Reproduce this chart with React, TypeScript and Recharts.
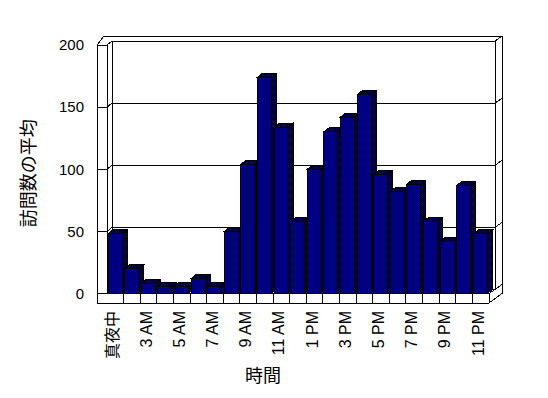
import React from 'react';
import { BarChart, Bar, XAxis, YAxis, CartesianGrid, ReferenceArea } from 'recharts';

const categories = [
  '真夜中', '2 AM', '3 AM', '4 AM', '5 AM', '6 AM', '7 AM', '8 AM', '9 AM', '10 AM', '11 AM', '正午',
  '1 PM', '2 PM', '3 PM', '4 PM', '5 PM', '6 PM', '7 PM', '8 PM', '9 PM', '10 PM', '11 PM',
];
const visits = [48, 20, 8, 6, 6, 12, 6, 50, 104, 174, 134, 58, 100, 130, 142, 160, 96, 82, 88, 58, 42, 87, 48];
const yTicks = [0, 50, 100, 150, 200];
const xTitle = '時間';
const yTitle = '訪問数の平均';

const data = categories.map((c, i) => ({ hour: c, visits: visits[i] }));

const FONT = "'Liberation Sans', 'Noto Sans CJK JP', sans-serif";
const NAVY = '#000080';
const BD = { dx: 5, dy: 4 }; // bar depth
const WD = { dx: 5, dy: 4 }; // back wall inner offset
const WO = { dx: 13, dy: 9 }; // back wall outer offset
const LW = 10; // left wall thickness
const FH = 9.5; // floor thickness

function Bar3D(props: any) {
  const { x, y, width, height } = props;
  if (!height || height <= 0) return <g />;
  const { dx, dy } = BD;
  return (
    <g shapeRendering="crispEdges">
      <polygon
        points={`${x},${y} ${x + dx},${y - dy} ${x + width + dx},${y - dy} ${x + width},${y}`}
        fill="url(#dither)"
        stroke="#000"
        strokeWidth={1}
      />
      <polygon
        points={`${x + width},${y} ${x + width + dx},${y - dy} ${x + width + dx},${y + height - dy} ${x + width},${y + height}`}
        fill="url(#dither)"
        stroke="#000"
        strokeWidth={1}
      />
      <rect x={x} y={y} width={width} height={height} fill={NAVY} stroke="#000" strokeWidth={1} />
    </g>
  );
}

function Frame(props: any) {
  const { x, y, width, height } = props;
  const left = x;
  const right = x + width;
  const top = y;
  const bottom = y + height;
  const band = width / categories.length;
  const s = { stroke: '#000', strokeWidth: 1, fill: 'none' };
  const dividers = categories.slice(1).map((_, i) => left + (i + 1) * band);
  return (
    <g shapeRendering="crispEdges">
      <defs>
        <pattern id="dither" width="2" height="2" patternUnits="userSpaceOnUse">
          <rect x="0" y="0" width="2" height="2" fill={NAVY} />
          <rect x="0" y="0" width="1" height="1" fill="#000" />
          <rect x="1" y="1" width="1" height="1" fill="#000" />
        </pattern>
      </defs>
      {/* left wall */}
      <line x1={left - LW} y1={top} x2={left - LW} y2={bottom + FH} {...s} />
      <line x1={left} y1={top} x2={left} y2={bottom} {...s} />
      <line x1={left - LW} y1={top} x2={left} y2={top} {...s} />
      <line x1={left - LW} y1={top} x2={left - 3} y2={top - WO.dy} {...s} />
      <line x1={left} y1={top} x2={left + WD.dx} y2={top - WD.dy} {...s} />
      {/* back wall */}
      <line x1={left - 3} y1={top - WO.dy} x2={right + WO.dx} y2={top - WO.dy} {...s} />
      <line x1={left + WD.dx} y1={top - WD.dy} x2={right + WD.dx + 1} y2={top - WD.dy} {...s} />
      <line x1={left + WD.dx} y1={top - WD.dy} x2={left + WD.dx} y2={bottom - WD.dy} {...s} />
      <line x1={right + WD.dx + 1} y1={top - WD.dy} x2={right + WD.dx + 1} y2={bottom - WD.dy} {...s} />
      <line x1={right + WD.dx + 1} y1={top - WD.dy} x2={right + WO.dx} y2={top - WO.dy} {...s} />
      <line x1={right + WO.dx} y1={top - WO.dy} x2={right + WO.dx} y2={bottom} {...s} />
      {/* floor */}
      <line x1={left - LW} y1={bottom + FH} x2={right} y2={bottom + FH} {...s} />
      <line x1={left} y1={bottom} x2={right} y2={bottom} {...s} />
      <line x1={right} y1={bottom} x2={right} y2={bottom + FH} {...s} />
      <line x1={right} y1={bottom + FH} x2={right + WO.dx} y2={bottom} {...s} />
      <line x1={right} y1={bottom} x2={right + WD.dx + 1} y2={bottom - WD.dy} {...s} />
      <line x1={right + WD.dx + 1} y1={bottom - WD.dy} x2={right + WO.dx} y2={bottom - WO.dy} {...s} />
      {dividers.map((dxv, i) => (
        <line key={i} x1={dxv} y1={bottom} x2={dxv} y2={bottom + FH} {...s} />
      ))}
    </g>
  );
}

function GridLine3D(p: any) {
  const { x1, x2, y1 } = p;
  const yy = y1;
  const s = { stroke: '#000', strokeWidth: 1, fill: 'none' };
  return (
    <g key={p.key} shapeRendering="crispEdges">
      <line x1={x1 - LW} y1={yy} x2={x1} y2={yy} {...s} />
      <line x1={x1} y1={yy} x2={x1 + WD.dx} y2={yy - WD.dy} {...s} />
      <line x1={x1 + WD.dx} y1={yy - WD.dy} x2={x2 + WD.dx + 1} y2={yy - WD.dy} {...s} />
      <line x1={x2 + WD.dx + 1} y1={yy - WD.dy} x2={x2 + WO.dx} y2={yy - WO.dy} {...s} />
    </g>
  );
}

function XTick(props: any) {
  const { x, y, payload } = props;
  const i = payload && payload.index != null ? payload.index : props.index;
  if (i % 2 === 1) return <g />;
  return (
    <text
      transform={`translate(${x - 2.5}, ${y + 17.5}) rotate(-90)`}
      textAnchor="end"
      dominantBaseline="central"
      fontSize={16}
      fontFamily={FONT}
      fill="#000"
    >
      {payload.value}
    </text>
  );
}

function YTitle(props: any) {
  const vb = props.viewBox || {};
  const cx = vb.x + 29;
  const cy = vb.y + vb.height / 2 + 4;
  return (
    <text
      transform={`translate(${cx}, ${cy}) rotate(-90)`}
      textAnchor="middle"
      dominantBaseline="central"
      fontSize={18}
      fontFamily={FONT}
      fill="#000"
    >
      {yTitle}
    </text>
  );
}

function XTitle(props: any) {
  const vb = props.viewBox || {};
  const cx = vb.x + vb.width / 2 - 35;
  const cy = vb.y + 82.5;
  return (
    <text x={cx} y={cy} textAnchor="middle" dominantBaseline="central" fontSize={18} fontFamily={FONT} fill="#000">
      {xTitle}
    </text>
  );
}

export default function App() {
  return (
    <div style={{ position: 'absolute', left: 0, top: 0, background: '#fff' }}>
      <BarChart
        width={548}
        height={398}
        data={data}
        margin={{ top: 45, right: 59, bottom: 44.5, left: 0 }}
        barCategoryGap={0}
      >
        <CartesianGrid vertical={false} horizontal={(p: any) => <GridLine3D {...p} />} />
        <ReferenceArea y1={0} y2={200} ifOverflow="visible" shape={(p: any) => <Frame {...p} />} />
        <XAxis
          dataKey="hour"
          interval={0}
          height={60}
          axisLine={false}
          tickLine={false}
          tickSize={0}
          tickMargin={0}
          tick={<XTick />}
          label={XTitle}
        />
        <YAxis
          domain={[0, 200]}
          ticks={yTicks}
          width={107}
          axisLine={false}
          tickLine={false}
          tickSize={0}
          tickMargin={23}
          tick={{ fontSize: 15, fill: '#000', fontFamily: FONT }}
          label={YTitle}
        />
        <Bar dataKey="visits" barSize={14} shape={(p: any) => <Bar3D {...p} />} isAnimationActive={false} />
      </BarChart>
    </div>
  );
}
